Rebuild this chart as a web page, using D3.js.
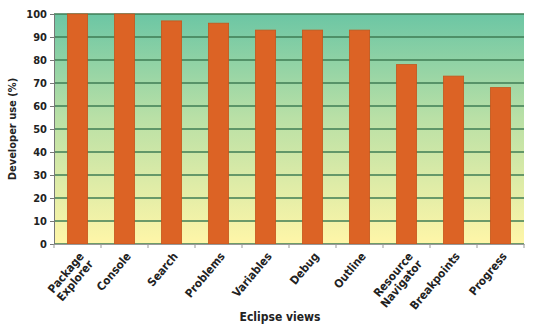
<!DOCTYPE html>
<html>
<head>
<meta charset="utf-8">
<script src="https://cdn.jsdelivr.net/npm/d3@7"></script>
<style>
  body { margin: 0; background: #fff; }
  text { font-family: "Liberation Sans Narrow", "DejaVu Sans Condensed", "Arial Narrow", sans-serif; font-weight: bold; fill: #222; }
</style>
</head>
<body>
<svg id="chart"></svg>
<script>
const views = ["Package Explorer", "Console", "Search", "Problems", "Variables", "Debug", "Outline", "Resource Navigator", "Breakpoints", "Progress"];
const usage = [100, 100, 97, 96, 93, 93, 93, 78, 73, 68];
const yTicks = [0, 10, 20, 30, 40, 50, 60, 70, 80, 90, 100];

const width = 533, height = 329;
const margin = { top: 14, right: 9, bottom: 85, left: 54 };

const svg = d3.select("#chart").attr("width", width).attr("height", height);

const x = d3.scaleBand().domain(views).range([margin.left, width - margin.right]).paddingInner(0.57).paddingOuter(0.285);
const y = d3.scaleLinear().domain([0, 100]).range([height - margin.bottom, margin.top]);

const defs = svg.append("defs");
const grad = defs.append("linearGradient").attr("id", "bg").attr("x1", 0).attr("x2", 0).attr("y1", 0).attr("y2", 1);
grad.append("stop").attr("offset", "0%").attr("stop-color", "#6cc6a4");
grad.append("stop").attr("offset", "45%").attr("stop-color", "#b9e0a6");
grad.append("stop").attr("offset", "100%").attr("stop-color", "#fff6a8");

svg.append("rect")
  .attr("x", margin.left).attr("y", margin.top)
  .attr("width", width - margin.left - margin.right)
  .attr("height", y(0) - margin.top)
  .attr("fill", "url(#bg)");

// horizontal gridlines
svg.append("g")
  .selectAll("line")
  .data(yTicks)
  .join("line")
  .attr("x1", margin.left).attr("x2", width - margin.right)
  .attr("y1", d => y(d)).attr("y2", d => y(d))
  .attr("stroke", "#3f7d55")
  .attr("stroke-width", 1.3);

// bars
svg.append("g")
  .selectAll("rect")
  .data(views)
  .join("rect")
  .attr("x", d => x(d))
  .attr("y", (d, i) => y(usage[i]))
  .attr("width", x.bandwidth())
  .attr("height", (d, i) => y(0) - y(usage[i]))
  .attr("fill", "#dc6325")
  .attr("stroke", "#c4561c")
  .attr("stroke-width", 0.8);

// y axis
const yAxis = svg.append("g")
  .attr("transform", `translate(${margin.left},0)`)
  .call(d3.axisLeft(y).tickValues(yTicks).tickSize(4).tickPadding(3));
yAxis.select(".domain").attr("stroke", "#777");
yAxis.selectAll(".tick line").attr("stroke", "#777");
yAxis.selectAll("text").style("font-size", "11px");

// x axis
const xAxis = svg.append("g")
  .attr("transform", `translate(0,${y(0)})`)
  .call(d3.axisBottom(x).tickSize(0).tickFormat(""));
xAxis.select(".domain").attr("stroke", "#999");

// small ticks at band boundaries
svg.append("g")
  .selectAll("line")
  .data(d3.range(views.length + 1))
  .join("line")
  .attr("x1", i => margin.left + i * x.step()).attr("x2", i => margin.left + i * x.step())
  .attr("y1", y(0)).attr("y2", y(0) + 4)
  .attr("stroke", "#999");

// rotated category labels
const labels = svg.append("g")
  .selectAll("text")
  .data(views)
  .join("text")
  .attr("transform", d => `translate(${x(d) + x.bandwidth() / 2 + 4},${y(0) + 10}) rotate(-50)`)
  .attr("text-anchor", "end")
  .style("font-size", "11.5px");
labels.each(function(d) {
  const words = d.split(" ");
  const t = d3.select(this);
  words.forEach((w, i) => {
    t.append("tspan")
      .attr("x", 0)
      .attr("dy", i === 0 ? "0.35em" : "1.05em")
      .text(w);
  });
});

// axis titles
svg.append("text")
  .attr("transform", `translate(16,${(margin.top + y(0)) / 2}) rotate(-90)`)
  .attr("text-anchor", "middle")
  .style("font-size", "11px")
  .text("Developer use (%)");

svg.append("text")
  .attr("x", 280).attr("y", 321)
  .attr("text-anchor", "middle")
  .style("font-size", "12px")
  .text("Eclipse views");
</script>
</body>
</html>
